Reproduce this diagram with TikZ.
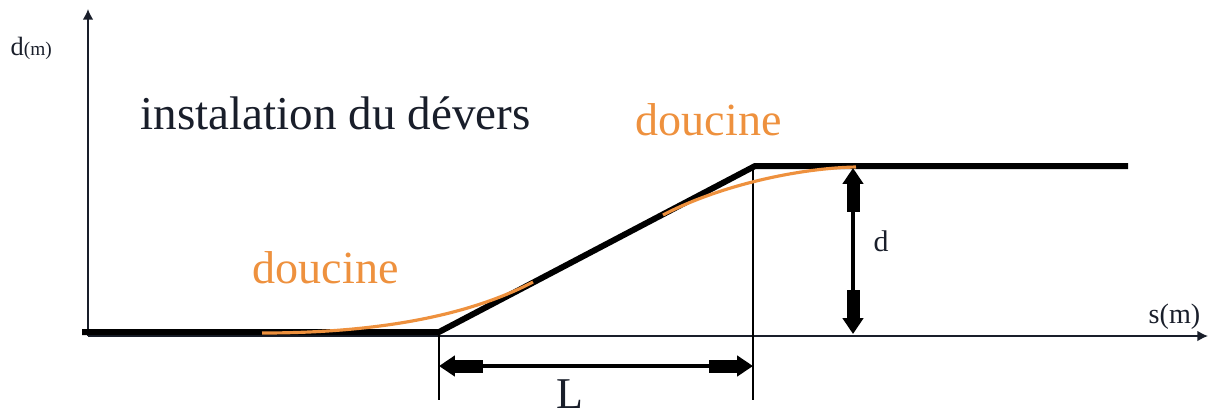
\documentclass[tikz,border=0pt]{standalone}
\usepackage{fontspec}
\setmainfont{Liberation Serif}
\usepackage{xcolor}
\usetikzlibrary{arrows.meta, positioning, calc}
\definecolor{encre}{RGB}{25,30,42}
\definecolor{orangeD}{RGB}{238,145,62}

\begin{document}
\begin{tikzpicture}[x=0.01cm, y=-0.01cm,
    axe/.style={line width=0.45pt, encre, -{Latex[length=3pt,width=3pt]}},
    voie/.style={line width=1.7pt, black, line join=miter},
    courbe/.style={line width=0.9pt, orangeD},
    rappel/.style={line width=0.35pt, black},
    cote/.style={line width=1.2pt, black,
        {Triangle[length=4.5pt,width=5.7pt]Rectangle[length=8pt,width=3.7pt]}-{Rectangle[length=8pt,width=3.7pt]Triangle[length=4.5pt,width=5.7pt]}},
    lbl/.style={inner sep=0pt, anchor=base west, text=encre}]
    \useasboundingbox (0,0) rectangle (1209,417);
    % Points du trace
    \coordinate (O) at (88,336);
    \coordinate (yTop) at (88,9);
    \coordinate (xEnd) at (1208,336);
    \coordinate (A) at (82,332);
    \coordinate (B) at (439,332);
    \coordinate (C) at (755,166);
    \coordinate (D) at (1128,166);
    % Axes
    \draw[axe] (O) -- (yTop);
    \draw[axe] (O) -- (xEnd);
    % Lignes de rappel
    \coordinate (B1) at (439,400);
    \coordinate (C1) at (753,400);
    \draw[rappel] (B) -- (B1);
    \draw[rappel] (753,166) -- (C1);
    % Profil du devers
    \draw[voie] (A) -- (B) -- (C) -- (D);
    % Doucines
    \coordinate (P1) at (262,333);
    \coordinate (P2) at (533,282);
    \coordinate (P3) at (663,215);
    \coordinate (P4) at (856,167);
    \draw[courbe] (P1) .. controls (380,333) and (470,315) .. (P2);
    \draw[courbe] (P3) .. controls (720,185) and (800,168) .. (P4);
    % Cotes L et d
    \coordinate (L1) at (439,366);
    \coordinate (L2) at (753,366);
    \coordinate (d1) at (853,168);
    \coordinate (d2) at (853,334);
    \draw[cote] (L1) -- (L2);
    \draw[cote] (d1) -- (d2);
    % Textes
    \node[lbl, font=\fontsize{13.4}{15}\selectfont] (titre) at (140,129) {instalation du dévers};
    \node[lbl, text=orangeD, font=\fontsize{13.1}{15}\selectfont] (douc1) at (635,135) {doucine};
    \node[lbl, text=orangeD, font=\fontsize{13.1}{15}\selectfont] (douc2) at (252,283) {doucine};
    \node[lbl] (dm) at (10,55) {\fontsize{7.5}{8}\selectfont d\fontsize{5.5}{7}\selectfont(m)};
    \node[lbl, font=\fontsize{8}{9}\selectfont] (sm) at (1148,323) {s(m)};
    \node[lbl, font=\fontsize{8.5}{10}\selectfont] (dlab) at (873,251) {d};
    \node[lbl, font=\fontsize{12.5}{15}\selectfont] (Llab) at (556,408) {L};
\end{tikzpicture}
\end{document}
